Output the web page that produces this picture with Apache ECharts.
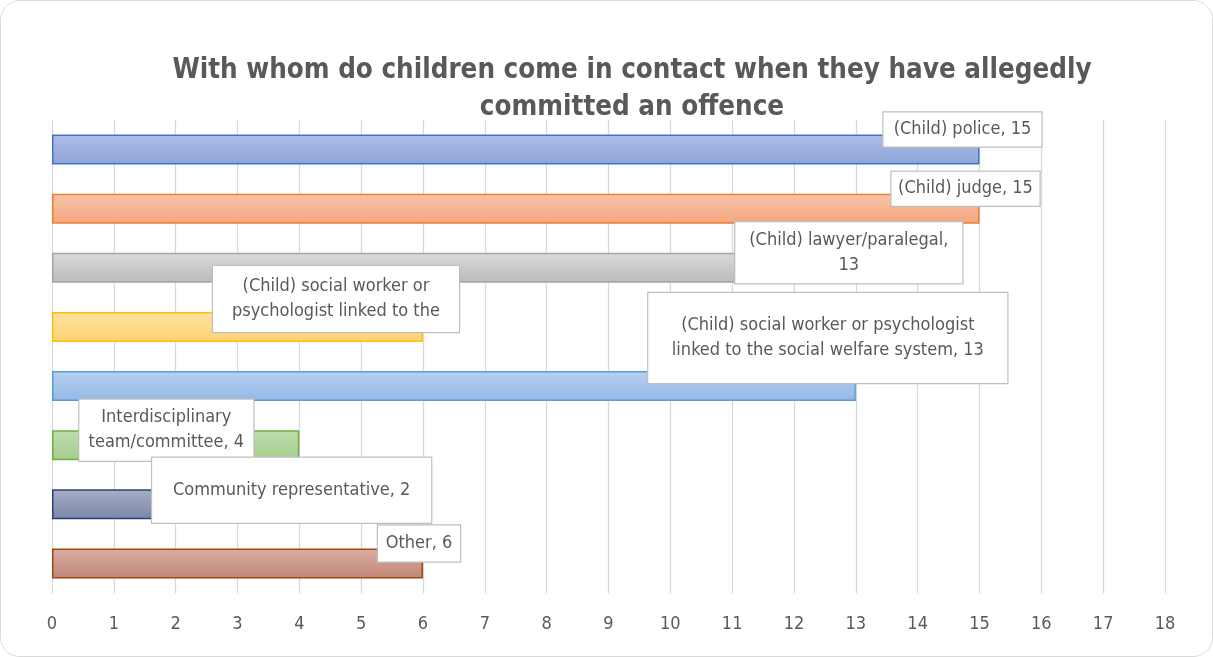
<!DOCTYPE html>
<html>
<head>
<meta charset="utf-8">
<script src="https://cdn.jsdelivr.net/npm/echarts@6/dist/echarts.min.js"></script>
<style>
  html, body { margin: 0; padding: 0; background: #fff; }
  #main { position: absolute; left: 0; top: 0; width: 1211px; height: 655px;
          border: 1px solid #d9d9d9; border-radius: 20px; overflow: hidden; }
</style>
</head>
<body>
<div id="main"></div>
<script>
// categories (top to bottom) and values
var categories = [
    '(Child) police',
    '(Child) judge',
    '(Child) lawyer/paralegal',
    '(Child) social worker or psychologist linked to the justice system',
    '(Child) social worker or psychologist linked to the social welfare system',
    'Interdisciplinary team/committee',
    'Community representative',
    'Other'
];
var values = [15, 15, 13, 6, 13, 4, 2, 6];
// callout texts as shown in the picture
var labelTexts = [
    '(Child) police, 15',
    '(Child) judge, 15',
    '(Child) lawyer/paralegal,\n13',
    '(Child) social worker or\npsychologist linked to the',
    '(Child) social worker or psychologist\nlinked to the social welfare system, 13',
    'Interdisciplinary\nteam/committee, 4',
    'Community representative, 2',
    'Other, 6'
];
var xTicks = [0, 18];

// bar colours: border, gradient top, gradient bottom
var barColors = [
    ['#4472C4', '#aebde6', '#8ba5d9'],
    ['#ED7D31', '#f8c5a9', '#f4a47f'],
    ['#A5A5A5', '#dadada', '#bababa'],
    ['#FFC000', '#ffe2a0', '#ffd276'],
    ['#5B9BD5', '#b6d0ee', '#93b8e5'],
    ['#70AD47', '#bfdeae', '#a3cd8a'],
    ['#264478', '#a7afc7', '#7b85a8'],
    ['#9E480E', '#d9ada2', '#c18677']
];
// callout box layout (offset from bar end, box size)
var calloutStyle = [
    { offset: [-17, -20], w: 158, h: 34 },
    { offset: [-14, -20], w: 148, h: 34 },
    { offset: [-7, -15], w: 227, h: 61 },
    { offset: [-87, -28], w: 246, h: 66 },
    { offset: [-28, -48], w: 359, h: 90 },
    { offset: [-133, -15], w: 174, h: 61 },
    { offset: [116, -14], w: 279, h: 65 },
    { offset: [-4, -20], w: 82, h: 36 }
];

var fontNarrow = "'Liberation Sans Narrow', 'DejaVu Sans Condensed', 'Roboto', sans-serif";

var chart = echarts.init(document.getElementById('main'));

var barData = values.map(function (v, i) {
    var c = barColors[i];
    var cs = calloutStyle[i];
    return {
        value: v,
        itemStyle: {
            borderColor: c[0],
            borderWidth: 1.5,
            color: new echarts.graphic.LinearGradient(0, 0, 0, 1, [
                { offset: 0, color: c[1] },
                { offset: 1, color: c[2] }
            ])
        },
        label: {
            formatter: labelTexts[i],
            offset: cs.offset,
            width: cs.w,
            height: cs.h
        }
    };
});

var option = {
    backgroundColor: '#fff',
    animation: false,
    title: {
        text: 'With whom do children come in contact when they have allegedly\ncommitted an offence',
        left: 626,
        top: 46,
        textAlign: 'center',
        textStyle: {
            fontFamily: fontNarrow,
            fontWeight: 'bold',
            fontSize: 27.5,
            lineHeight: 37,
            color: '#595959'
        }
    },
    grid: {
        left: 51,
        right: 47,
        top: 119,
        bottom: 63,
        containLabel: false
    },
    xAxis: {
        type: 'value',
        min: xTicks[0],
        max: xTicks[1],
        interval: 1,
        axisLine: { show: false },
        axisTick: { show: false },
        splitLine: { lineStyle: { color: '#d9d9d9', width: 1.3 } },
        axisLabel: {
            color: '#595959',
            fontSize: 18,
            fontFamily: fontNarrow,
            margin: 22
        }
    },
    yAxis: {
        type: 'category',
        inverse: true,
        data: categories,
        axisLine: { show: false },
        axisTick: { show: false },
        axisLabel: { show: false }
    },
    series: [{
        type: 'bar',
        data: barData,
        barWidth: 30,
        label: {
            show: true,
            position: 'right',
            distance: 0,
            align: 'center',
            verticalAlign: 'middle',
            color: '#595959',
            fontSize: 18,
            lineHeight: 25,
            fontFamily: fontNarrow,
            backgroundColor: '#fff',
            borderColor: '#bfbfbf',
            borderWidth: 1.2,
            padding: 0
        }
    }]
};

chart.setOption(option);
</script>
</body>
</html>
